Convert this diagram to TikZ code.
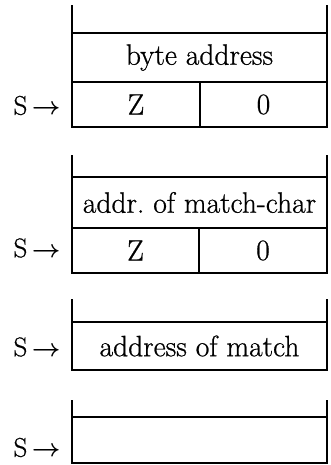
\documentclass[tikz,border=0pt]{standalone}
\usepackage{fontspec}
\setmainfont{Latin Modern Roman}[FakeBold=0.7]
\newcommand{\sarr}{S\,{\boldmath$\rightarrow$}}
\frenchspacing
\begin{document}
\begin{tikzpicture}[x=1pt,y=1pt,
  cell/.style={draw, line width=1.6pt, inner sep=0pt, outer sep=0pt, font=\fontsize{29.5}{34}\selectfont},
  tick/.style={line width=1.6pt},
  slab/.style={font=\fontsize{27}{32}\selectfont, inner sep=0pt, anchor=center}]
\useasboundingbox (0,0) rectangle (330,465);
% stack 1
\node[cell, minimum width=255pt, minimum height=49pt] (b1) at (199.5,407.5) {byte address};
\node[cell, minimum width=128pt, minimum height=45pt] (z1) at (136,360.5) {Z};
\node[cell, minimum width=127pt, minimum height=45pt] (o1) at (263.5,360.5) {0};
\coordinate (t1l) at (72,460); \coordinate (t1r) at (327,460);
\draw[tick] (b1.north west) -- (t1l);
\draw[tick] (b1.north east) -- (t1r);
\node[slab] (s1) at (37,359.5) {\sarr};
% stack 2
\node[cell, minimum width=255pt, minimum height=51pt] (b2) at (199.5,262.5) {addr.\ of match-char};
\node[cell, minimum width=127pt, minimum height=45pt] (z2) at (135.5,214.5) {Z};
\node[cell, minimum width=128pt, minimum height=45pt] (o2) at (263,214.5) {0};
\coordinate (t2l) at (72,310); \coordinate (t2r) at (327,310);
\draw[tick] (b2.north west) -- (t2l);
\draw[tick] (b2.north east) -- (t2r);
\node[slab] (s2) at (37,217) {\sarr};
% stack 3
\node[cell, minimum width=255pt, minimum height=48pt] (b3) at (199.5,119) {address of match};
\coordinate (t3l) at (72,166); \coordinate (t3r) at (327,166);
\draw[tick] (b3.north west) -- (t3l);
\draw[tick] (b3.north east) -- (t3r);
\node[slab] (s3) at (37,118) {\sarr};
% stack 4
\node[cell, minimum width=255pt, minimum height=46pt] (b4) at (199.5,25) {};
\coordinate (t4l) at (72,65); \coordinate (t4r) at (327,65);
\draw[tick] (b4.north west) -- (t4l);
\draw[tick] (b4.north east) -- (t4r);
\node[slab] (s4) at (37,17.5) {\sarr};
\end{tikzpicture}
\end{document}
